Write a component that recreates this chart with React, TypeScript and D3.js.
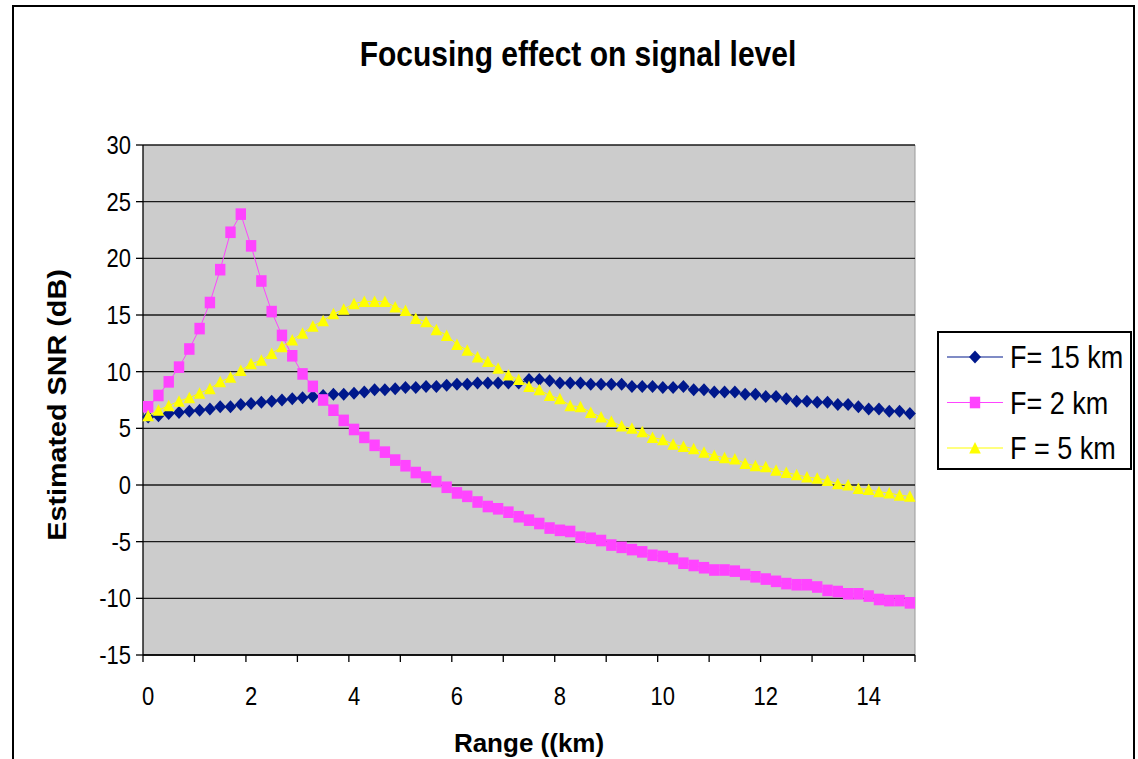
import React from "react";
import * as d3 from "d3";

const rangeKm: number[] = Array.from({ length: 75 }, (_, i) => +(i * 0.2).toFixed(1));

const f15: number[] = [
  6.0, 6.1, 6.3, 6.4, 6.5, 6.6, 6.7, 6.9, 6.9, 7.1,
  7.2, 7.3, 7.4, 7.5, 7.6, 7.7, 7.8, 7.9, 8.0, 8.0,
  8.1, 8.2, 8.4, 8.4, 8.5, 8.6, 8.6, 8.7, 8.7, 8.8,
  8.9, 8.9, 9.0, 9.0, 9.0, 9.0, 9.0, 9.3, 9.3, 9.2,
  9.0, 9.0, 9.0, 8.9, 8.9, 8.9, 8.9, 8.7, 8.7, 8.7,
  8.6, 8.6, 8.7, 8.4, 8.4, 8.2, 8.2, 8.2, 8.0, 8.0,
  7.8, 7.8, 7.6, 7.4, 7.4, 7.3, 7.3, 7.1, 7.1, 6.9,
  6.7, 6.7, 6.5, 6.5, 6.3,
];

const f2: number[] = [
  6.9, 7.9, 9.1, 10.4, 12.0, 13.8, 16.1, 19.0, 22.3, 23.9,
  21.1, 18.0, 15.3, 13.2, 11.4, 9.8, 8.7, 7.5, 6.6, 5.7,
  4.9, 4.2, 3.5, 2.9, 2.2, 1.7, 1.1, 0.7, 0.3, -0.2,
  -0.7, -1.0, -1.5, -1.9, -2.1, -2.4, -2.8, -3.1, -3.4, -3.8,
  -4.0, -4.1, -4.6, -4.7, -4.9, -5.3, -5.5, -5.7, -5.9, -6.2,
  -6.3, -6.5, -6.9, -7.1, -7.3, -7.5, -7.5, -7.6, -7.9, -8.1,
  -8.3, -8.5, -8.7, -8.8, -8.8, -9.0, -9.3, -9.4, -9.6, -9.6,
  -9.8, -10.1, -10.2, -10.2, -10.4,
];

const f5: number[] = [
  6.1, 6.6, 7.0, 7.4, 7.7, 8.1, 8.5, 9.1, 9.5, 10.1,
  10.7, 11.0, 11.6, 12.2, 12.8, 13.4, 14.0, 14.5, 15.1, 15.5,
  16.0, 16.2, 16.2, 16.2, 15.7, 15.4, 14.7, 14.4, 13.7, 13.2,
  12.4, 11.9, 11.3, 10.9, 10.3, 9.7, 9.3, 8.7, 8.4, 7.9,
  7.6, 7.0, 6.9, 6.4, 6.0, 5.6, 5.2, 5.0, 4.7, 4.2,
  4.0, 3.6, 3.4, 3.2, 2.9, 2.6, 2.4, 2.3, 1.9, 1.7,
  1.6, 1.3, 1.1, 0.9, 0.7, 0.6, 0.4, 0.1, 0.0, -0.3,
  -0.4, -0.6, -0.7, -0.9, -1.0,
];

const yTicks: number[] = [-15, -10, -5, 0, 5, 10, 15, 20, 25, 30];
const xLabelKm: number[] = [0, 2, 4, 6, 8, 10, 12, 14];

const seriesNames = ["F= 15 km", "F= 2 km", "F = 5 km"];
const seriesColors = ["#00188C", "#FF44FF", "#FFFF00"];
const seriesMarkers = ["diamond", "square", "triangle"];
const seriesData = [f15, f2, f5];

const FONT = "'Liberation Sans', Arial, sans-serif";
const SY = 1.15;

function markerPath(kind: string): string {
  if (kind === "diamond") return "M0,-6.5L6,0L0,6.5L-6,0Z";
  if (kind === "square") return "M-5.2,-5.8L5.2,-5.8L5.2,5.8L-5.2,5.8Z";
  return "M0,-6L5.8,5.5L-5.8,5.5Z";
}

function T(props: {
  x: number;
  y: number;
  size: number;
  anchor?: string;
  bold?: boolean;
  rotate?: number;
  dy?: string;
  sy?: number;
  children: React.ReactNode;
}) {
  const rot = props.rotate ? ` rotate(${props.rotate})` : "";
  const sy = props.sy ?? SY;
  return (
    <g transform={`translate(${props.x},${props.y}) scale(1,${sy})${rot}`}>
      <text
        x={0}
        y={0}
        dy={props.dy}
        textAnchor={props.anchor || "start"}
        fontSize={props.size}
        fontWeight={props.bold ? "bold" : "normal"}
      >
        {props.children}
      </text>
    </g>
  );
}

export default function App() {
  const W = 1138;
  const H = 759;
  const left = 143, right = 915, top = 145, bottom = 655;

  const x = d3
    .scaleBand<number>()
    .domain(d3.range(rangeKm.length))
    .range([left, right])
    .padding(0);
  const bw = x.bandwidth();
  const cx = (i: number) => (x(i) as number) + bw / 2;

  const y = d3.scaleLinear().domain([-15, 30]).range([bottom, top]);

  const line = d3
    .line<number>()
    .x((_, i) => cx(i))
    .y((d) => y(d));

  const tickIdx = d3.range(0, rangeKm.length + 1, 5);

  return (
    <svg
      width={W}
      height={H}
      style={{ position: "absolute", left: 0, top: 0, background: "#fff" }}
      fontFamily={FONT}
    >
      <rect x={0} y={0} width={W} height={H} fill="#fff" />
      <rect x={13} y={6} width={1121} height={H + 20} fill="none" stroke="#000" strokeWidth={2} />

      <T x={578} y={66} size={30} anchor="middle" bold>
        Focusing effect on signal level
      </T>

      <rect x={left} y={top} width={right - left} height={bottom - top} fill="#CCCCCC" />
      <line x1={right} x2={right} y1={top} y2={bottom} stroke="#9a9a9a" strokeWidth={1} />
      {yTicks.map((t) => (
        <line key={"g" + t} x1={left} x2={right} y1={y(t)} y2={y(t)} stroke="#1a1a1a" strokeWidth={1.3} />
      ))}

      <line x1={left} x2={left} y1={top} y2={bottom} stroke="#000" strokeWidth={1.3} />
      {yTicks.map((t) => (
        <g key={"yt" + t}>
          <line x1={left - 7} x2={left} y1={y(t)} y2={y(t)} stroke="#000" strokeWidth={1.3} />
          <T x={131} y={y(t)} dy="0.36em" anchor="end" size={22}>
            {t}
          </T>
        </g>
      ))}

      <line x1={left} x2={right} y1={bottom} y2={bottom} stroke="#000" strokeWidth={1.3} />
      {tickIdx.map((i) => {
        const px = i < rangeKm.length ? (x(i) as number) : right;
        return <line key={"xt" + i} x1={px} x2={px} y1={bottom} y2={bottom + 7} stroke="#000" strokeWidth={1.3} />;
      })}
      {xLabelKm.map((k) => {
        const i = rangeKm.indexOf(k);
        return (
          <T key={"xl" + k} x={cx(i)} y={705} anchor="middle" size={22}>
            {k}
          </T>
        );
      })}

      <T x={529} y={752} anchor="middle" size={26} bold sy={1.0}>
        Range ((km)
      </T>
      <T x={66} y={405} anchor="middle" size={25} bold rotate={-90}>
        Estimated SNR (dB)
      </T>

      {seriesData.map((data, s) => (
        <g key={"s" + s}>
          <path d={line(data) as string} fill="none" stroke={seriesColors[s]} strokeWidth={1} />
          {data.map((v, i) => (
            <path
              key={i}
              d={markerPath(seriesMarkers[s])}
              transform={`translate(${cx(i)},${y(v)})`}
              fill={seriesColors[s]}
            />
          ))}
        </g>
      ))}

      <rect x={938} y={332} width={193} height={137} fill="#fff" stroke="#000" strokeWidth={2} />
      {seriesNames.map((name, s) => {
        const ry = 357 + s * 45.5;
        return (
          <g key={"lg" + s}>
            <line x1={947} x2={1003} y1={ry} y2={ry} stroke={seriesColors[s]} strokeWidth={1.2} />
            <path d={markerPath(seriesMarkers[s])} transform={`translate(975,${ry})`} fill={seriesColors[s]} />
            <T x={1010} y={ry} dy="0.36em" size={27}>
              {name}
            </T>
          </g>
        );
      })}
    </svg>
  );
}
